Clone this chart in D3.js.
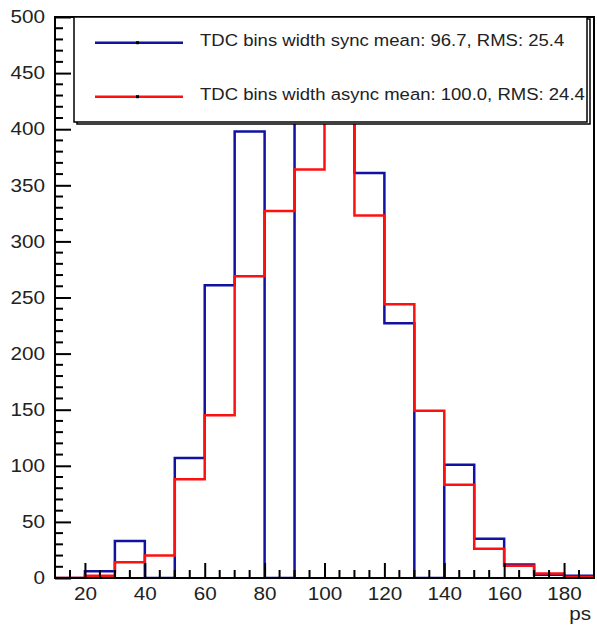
<!DOCTYPE html>
<html>
<head>
<meta charset="utf-8">
<script src="https://cdn.jsdelivr.net/npm/d3@7"></script>
<style>
  body { margin: 0; background: #fff; }
  text { font-family: "Liberation Sans", Arial, sans-serif; fill: #222; }
</style>
</head>
<body>
<div id="chart"></div>
<script>
// bin edges (ps) and counts
var binEdges = [10, 20, 30, 40, 50, 60, 70, 80, 90, 100, 110, 120, 130, 140, 150, 160, 170, 180, 190];
var syncCounts = [0, 6, 33, 0, 107, 261, 398, 0, 480, 440, 361, 227, 0, 101, 35, 12, 3, 2];
var asyncCounts = [0, 2, 14, 20, 88, 145, 269, 327, 364, 444, 323, 244, 149, 83, 26, 11, 4, 1];
var xTicks = [20, 40, 60, 80, 100, 120, 140, 160, 180];
var yTicks = [0, 50, 100, 150, 200, 250, 300, 350, 400, 450, 500];
var legendLabels = ["TDC bins width sync mean: 96.7, RMS: 25.4", "TDC bins width async mean: 100.0, RMS: 24.4"];
var seriesColors = ["#1212a2", "#ff1010"];

var margin = {top: 17, right: 3, bottom: 50, left: 55},
    fullWidth = 597, fullHeight = 628,
    width = fullWidth - margin.left - margin.right,
    height = fullHeight - margin.top - margin.bottom;
// the picture's text is a bit stretched sideways
var sx = 1.15;

var svg = d3.select("#chart")
  .append("svg")
  .attr("width", fullWidth)
  .attr("height", fullHeight)
  .append("g")
  .attr("transform", "translate(" + margin.left + "," + margin.top + ")");

var x = d3.scaleLinear().domain([10, 190]).range([0, width]);
var y = d3.scaleLinear().domain([0, 500]).range([height, 0]);

svg.append("clipPath").attr("id", "plotclip")
  .append("rect").attr("width", width).attr("height", height);

// step outline like ROOT's hist draw
function stepPoints(counts) {
  var pts = [[binEdges[0], 0]];
  counts.forEach(function(c, i) {
    pts.push([binEdges[i], c]);
    pts.push([binEdges[i + 1], c]);
  });
  pts.push([binEdges[binEdges.length - 1], 0]);
  return pts;
}
var line = d3.line()
  .x(function(d) { return x(d[0]); })
  .y(function(d) { return y(d[1]); });

[syncCounts, asyncCounts].forEach(function(counts, i) {
  svg.append("path")
    .datum(stepPoints(counts))
    .attr("clip-path", "url(#plotclip)")
    .attr("fill", "none")
    .attr("stroke", seriesColors[i])
    .attr("stroke-width", 2.5)
    .attr("d", line);
});

// ticks drawn inward, ROOT style
var yAxis = d3.axisLeft(y).tickValues(yTicks).tickSize(-16).tickPadding(10);
var gy = svg.append("g").attr("class", "y-axis").call(yAxis);
gy.select(".domain").remove();
gy.selectAll(".tick line").attr("stroke", "#000").attr("stroke-width", 2);
gy.selectAll(".tick text")
  .style("font-size", "18px")
  .attr("fill", "#222")
  .attr("x", -10 / sx)
  .attr("transform", "scale(" + sx + ",1)");

svg.append("g")
  .selectAll("line")
  .data(d3.range(0, 501, 10).filter(function(v) { return v % 50 !== 0; }))
  .enter().append("line")
  .attr("x1", 0).attr("x2", 8)
  .attr("y1", function(d) { return y(d); })
  .attr("y2", function(d) { return y(d); })
  .attr("stroke", "#000").attr("stroke-width", 2);

var xAxis = d3.axisBottom(x).tickValues(xTicks).tickSize(-15).tickPadding(9);
var gx = svg.append("g").attr("transform", "translate(0," + height + ")").call(xAxis);
gx.select(".domain").remove();
gx.selectAll(".tick line").attr("stroke", "#000").attr("stroke-width", 2);
gx.selectAll(".tick text")
  .style("font-size", "18px")
  .attr("fill", "#222")
  .attr("transform", "scale(" + sx + ",1)");

svg.append("g")
  .selectAll("line")
  .data(d3.range(15, 190, 5).filter(function(v) { return v % 20 !== 0; }))
  .enter().append("line")
  .attr("x1", function(d) { return x(d); })
  .attr("x2", function(d) { return x(d); })
  .attr("y1", height).attr("y2", height - 8)
  .attr("stroke", "#000").attr("stroke-width", 2);

// frame
svg.append("rect")
  .attr("width", width).attr("height", height)
  .attr("fill", "none").attr("stroke", "#000").attr("stroke-width", 2);

svg.append("g")
  .attr("transform", "translate(" + (width - 3) + "," + (height + 42) + ")")
  .append("text")
  .attr("text-anchor", "end")
  .attr("transform", "scale(" + sx + ",1)")
  .style("font-size", "18px")
  .text("ps");

// legend box with shadow
var lg = {x: 19, y: 0, w: 513, h: 105};
svg.append("rect")
  .attr("x", lg.x + 3).attr("y", lg.y + 2)
  .attr("width", lg.w).attr("height", lg.h)
  .attr("fill", "#fff").attr("stroke", "#000").attr("stroke-width", 1.5);
svg.append("rect")
  .attr("x", lg.x).attr("y", lg.y)
  .attr("width", lg.w).attr("height", lg.h)
  .attr("fill", "#fff").attr("stroke", "#000").attr("stroke-width", 1.5);

var entry = svg.append("g").selectAll("g")
  .data(legendLabels)
  .enter().append("g")
  .attr("transform", function(d, i) { return "translate(0," + (25.7 + i * 54) + ")"; });
entry.append("line")
  .attr("x1", 40).attr("x2", 128)
  .attr("stroke", function(d, i) { return seriesColors[i]; })
  .attr("stroke-width", 2.5);
entry.append("rect")
  .attr("x", 81).attr("y", -1.5).attr("width", 3).attr("height", 3)
  .attr("fill", "#000");
entry.append("g")
  .attr("transform", "translate(145,3)")
  .append("text")
  .attr("transform", "scale(1.09,1)")
  .style("font-size", "17px")
  .text(function(d) { return d; });
</script>
</body>
</html>
